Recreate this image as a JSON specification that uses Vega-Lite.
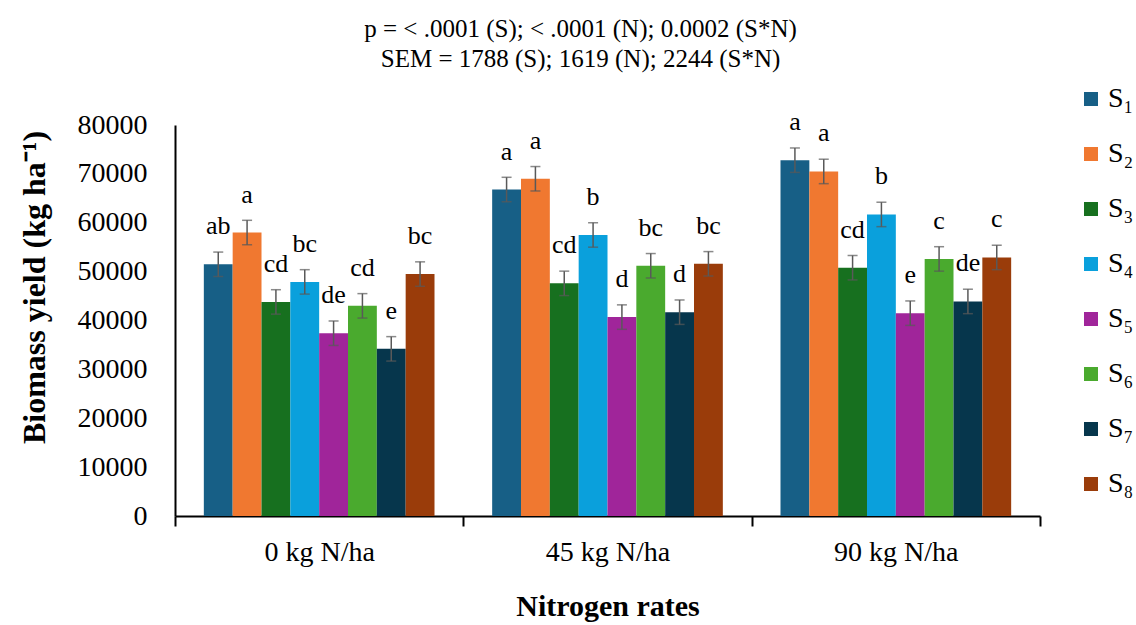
{
  "$schema": "https://vega.github.io/schema/vega-lite/v6.json",
  "width": 865,
  "height": 391,
  "autosize": {"type": "none"},
  "padding": {"left": 175, "top": 125, "right": 96, "bottom": 109},
  "background": "white",
  "title": {
    "text": ["p = < .0001 (S); < .0001 (N); 0.0002 (S*N)", "SEM = 1788 (S); 1619 (N); 2244 (S*N)"],
    "font": "Liberation Serif",
    "fontSize": 25,
    "fontWeight": "normal",
    "color": "black",
    "lineHeight": 30,
    "anchor": "middle",
    "dx": -27,
    "offset": 13
  },
  "data": {
    "values": [
      {"N": "0 kg N/ha", "S": "S₁", "yield": 51500, "err": 2500, "sig": "ab"},
      {"N": "0 kg N/ha", "S": "S₂", "yield": 58000, "err": 2500, "sig": "a"},
      {"N": "0 kg N/ha", "S": "S₃", "yield": 43800, "err": 2500, "sig": "cd"},
      {"N": "0 kg N/ha", "S": "S₄", "yield": 47900, "err": 2500, "sig": "bc"},
      {"N": "0 kg N/ha", "S": "S₅", "yield": 37400, "err": 2500, "sig": "de"},
      {"N": "0 kg N/ha", "S": "S₆", "yield": 43000, "err": 2500, "sig": "cd"},
      {"N": "0 kg N/ha", "S": "S₇", "yield": 34200, "err": 2500, "sig": "e"},
      {"N": "0 kg N/ha", "S": "S₈", "yield": 49500, "err": 2500, "sig": "bc"},
      {"N": "45 kg N/ha", "S": "S₁", "yield": 66800, "err": 2500, "sig": "a"},
      {"N": "45 kg N/ha", "S": "S₂", "yield": 69000, "err": 2500, "sig": "a"},
      {"N": "45 kg N/ha", "S": "S₃", "yield": 47600, "err": 2500, "sig": "cd"},
      {"N": "45 kg N/ha", "S": "S₄", "yield": 57500, "err": 2500, "sig": "b"},
      {"N": "45 kg N/ha", "S": "S₅", "yield": 40700, "err": 2500, "sig": "d"},
      {"N": "45 kg N/ha", "S": "S₆", "yield": 51200, "err": 2500, "sig": "bc"},
      {"N": "45 kg N/ha", "S": "S₇", "yield": 41700, "err": 2500, "sig": "d"},
      {"N": "45 kg N/ha", "S": "S₈", "yield": 51600, "err": 2500, "sig": "bc"},
      {"N": "90 kg N/ha", "S": "S₁", "yield": 72800, "err": 2500, "sig": "a"},
      {"N": "90 kg N/ha", "S": "S₂", "yield": 70500, "err": 2500, "sig": "a"},
      {"N": "90 kg N/ha", "S": "S₃", "yield": 50800, "err": 2500, "sig": "cd"},
      {"N": "90 kg N/ha", "S": "S₄", "yield": 61700, "err": 2500, "sig": "b"},
      {"N": "90 kg N/ha", "S": "S₅", "yield": 41500, "err": 2500, "sig": "e"},
      {"N": "90 kg N/ha", "S": "S₆", "yield": 52600, "err": 2500, "sig": "c"},
      {"N": "90 kg N/ha", "S": "S₇", "yield": 43900, "err": 2500, "sig": "de"},
      {"N": "90 kg N/ha", "S": "S₈", "yield": 52900, "err": 2500, "sig": "c"}
    ]
  },
  "encoding": {
    "x": {
      "field": "N",
      "type": "nominal",
      "sort": null,
      "scale": {"paddingInner": 0, "paddingOuter": 0},
      "axis": {
        "title": "Nitrogen rates",
        "titleFont": "Liberation Serif",
        "titleFontSize": 30,
        "titleFontWeight": "bold",
        "titleColor": "black",
        "titlePadding": 25,
        "labelFont": "Liberation Serif",
        "labelFontSize": 28,
        "labelColor": "black",
        "labelAngle": 0,
        "labelPadding": 12,
        "tickBand": "extent",
        "tickSize": 10,
        "tickColor": "black",
        "tickWidth": 2,
        "domainColor": "black",
        "domainWidth": 2
      }
    },
    "xOffset": {"field": "S", "type": "nominal", "sort": null, "scale": {"paddingInner": 0, "paddingOuter": 1.1}},
    "y": {
      "field": "yield",
      "type": "quantitative",
      "title": "Biomass yield (kg ha⁻¹)",
      "scale": {"domain": [0, 80000]},
      "axis": {
        "titleFont": "Liberation Serif",
        "titleFontSize": 32,
        "titleFontWeight": "bold",
        "titleColor": "black",
        "titlePadding": 26,
        "titleY": 162,
        "values": [0, 10000, 20000, 30000, 40000, 50000, 60000, 70000, 80000],
        "format": "d",
        "labelFont": "Liberation Serif",
        "labelFontSize": 28,
        "labelColor": "black",
        "labelPadding": 28,
        "ticks": false,
        "grid": false,
        "domainColor": "black",
        "domainWidth": 2
      }
    }
  },
  "layer": [
    {
      "mark": {"type": "bar"},
      "encoding": {
        "color": {
          "field": "S",
          "type": "nominal",
          "sort": null,
          "scale": {
            "domain": ["S₁", "S₂", "S₃", "S₄", "S₅", "S₆", "S₇", "S₈"],
            "range": ["#175f86", "#f07830", "#17701f", "#0aa0dc", "#a0259a", "#4aaa2e", "#06364c", "#9a3c0a"]
          },
          "legend": {
            "title": null,
            "orient": "none",
            "legendX": 902,
            "legendY": -40,
            "symbolType": "square",
            "symbolSize": 196,
            "symbolStrokeWidth": 0,
            "labelFont": "Liberation Serif",
            "labelFontSize": 28,
            "labelColor": "black",
            "labelOffset": 3,
            "rowPadding": 27
          }
        }
      }
    },
    {
      "mark": {
        "type": "errorbar",
        "ticks": {"size": 10, "thickness": 1.5, "color": "#595959"},
        "rule": {"strokeWidth": 1.5, "color": "#595959"}
      },
      "encoding": {
        "yError": {"field": "err"}
      }
    },
    {
      "mark": {
        "type": "text",
        "font": "Liberation Serif",
        "fontSize": 26,
        "color": "black",
        "baseline": "alphabetic",
        "dy": -30
      },
      "encoding": {
        "text": {"field": "sig", "type": "nominal"}
      }
    }
  ],
  "config": {
    "view": {"stroke": null}
  }
}
